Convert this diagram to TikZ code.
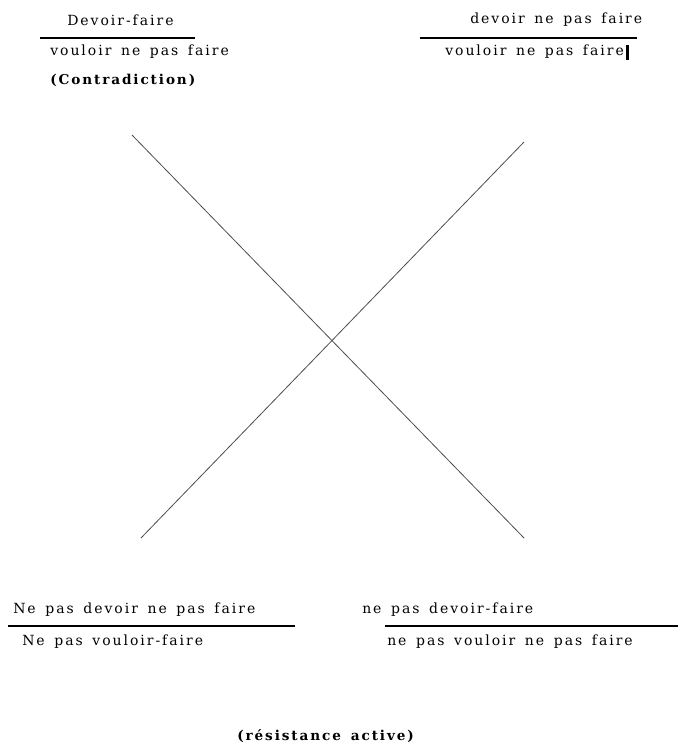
\documentclass[tikz,border=0pt]{standalone}
\usepackage{fontspec}
\setmainfont[LetterSpace=14,WordSpace=1.5]{DejaVu Serif}
\begin{document}
\begin{tikzpicture}[x=0.75pt,y=-0.75pt,
    lbl/.style={inner sep=0pt, anchor=west, font=\fontsize{10.5}{12}\selectfont},
    blbl/.style={lbl, font=\fontsize{10.2}{12}\selectfont\bfseries}]
    \useasboundingbox (0,0) rectangle (678,744);
    % top left corner
    \node[lbl] (dfaire) at (67,20) {Devoir-faire};
    \draw[line width=0.9pt] (40,38) -- (195,38);
    \node[lbl] (vnpf) at (50,52) {vouloir ne pas faire};
    \node[blbl] (contra) at (50,80) {(Contradiction)};
    % top right corner
    \node[lbl] (dnpf) at (470,20) {devoir ne pas faire};
    \draw[line width=0.9pt] (420,38) -- (637,38);
    \node[lbl] (vnpf2) at (445,52) {vouloir ne pas faire};
    \fill (626,45) rectangle (629,60);
    % the cross
    \coordinate (tl) at (132,135);
    \coordinate (br) at (524,538);
    \coordinate (tr) at (524,142);
    \coordinate (bl) at (141,538);
    \draw[gray!60!black, line width=0.6pt] (tl) -- (br);
    \draw[gray!60!black, line width=0.6pt] (tr) -- (bl);
    % bottom left corner
    \node[lbl] (npdnpf) at (13,610) {Ne pas devoir ne pas faire};
    \draw[line width=0.9pt] (8,626) -- (295,626);
    \node[lbl] (npvf) at (22,642) {Ne pas vouloir-faire};
    % bottom right corner
    \node[lbl] (npdf) at (362,610) {ne pas devoir-faire};
    \draw[line width=0.9pt] (385,626) -- (678,626);
    \node[lbl] (npvnpf) at (387,642) {ne pas vouloir ne pas faire};
    % bottom
    \node[blbl] (resist) at (237,736) {(résistance active)};
\end{tikzpicture}
\end{document}
